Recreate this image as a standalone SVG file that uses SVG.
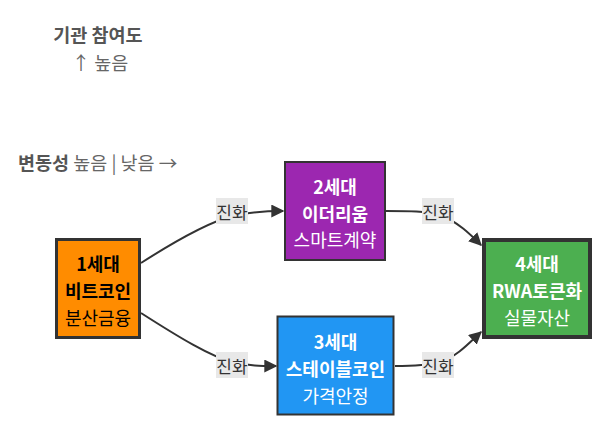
<svg xmlns="http://www.w3.org/2000/svg" width="600" height="426" viewBox="0 0 600 426">
<style>
text{font-family:"Noto Sans CJK KR","Noto Sans",sans-serif;font-size:18px;text-anchor:middle;dominant-baseline:central}
.b{font-weight:bold}
.hd{fill:#555}
.hl{fill:#666}
.h{font-size:18.5px}
.w{fill:#fff}
.k{fill:#000}
.edge{fill:none;stroke:#333;stroke-width:2}
.lbg{fill:#e8e8e8}
.lt{fill:#333;font-size:17px}
</style>
<defs>
<marker id="ah" viewBox="0 0 10 10" refX="9" refY="5" markerWidth="13" markerHeight="13" markerUnits="userSpaceOnUse" orient="auto">
<path d="M0,0 L10,5 L0,10 z" fill="#333"/>
</marker>
</defs>
<g id="legend">
<text x="98" y="34" class="b hd h">기관 참여도</text>
<text x="100" y="62" class="hl h">↑ 높음</text>
<text x="18" y="162" class="hl h" style="text-anchor:start"><tspan class="b hd">변동성</tspan> 높음 | 낮음 →</text>
</g>
<g id="connectors">
<path class="edge" d="M141,263 C180,238 210,222 232,216 C250,212 262,211 283,211" marker-end="url(#ah)"/>
<path class="edge" d="M141,313 C180,338 210,356 232,362 C250,366 260,366 276,366" marker-end="url(#ah)"/>
<path class="edge" d="M386,211 C410,211 425,211 440,215 C458,222 470,234 481,245" marker-end="url(#ah)"/>
<path class="edge" d="M395,366 C410,366 425,366 440,362 C458,356 470,342 481,332" marker-end="url(#ah)"/>
<g id="label1"><rect class="lbg" x="216" y="198" width="32" height="26"/><text class="lt" x="232" y="211">진화</text></g>
<g id="label2"><rect class="lbg" x="216" y="352" width="32" height="26"/><text class="lt" x="232" y="365">진화</text></g>
<g id="label3"><rect class="lbg" x="422" y="198" width="32" height="26"/><text class="lt" x="438" y="211">진화</text></g>
<g id="label4"><rect class="lbg" x="422" y="352" width="32" height="26"/><text class="lt" x="438" y="365">진화</text></g>
</g>
<g id="node1">
<rect x="56.5" y="239.5" width="83" height="98" fill="#FF8C00" stroke="#333" stroke-width="3"/>
<text x="98" y="263" class="b k">1세대</text>
<text x="98" y="290" class="b k">비트코인</text>
<text x="98" y="317" class="k">분산금융</text>
</g>
<g id="node2">
<rect x="285" y="162" width="100" height="98" fill="#9C27B0" stroke="#333" stroke-width="2"/>
<text x="335" y="186" class="b w">2세대</text>
<text x="335" y="213" class="b w">이더리움</text>
<text x="335" y="239" class="w">스마트계약</text>
</g>
<g id="node3">
<rect x="277.5" y="316.5" width="116" height="98" fill="#2196F3" stroke="#333" stroke-width="2"/>
<text x="335.5" y="341" class="b w">3세대</text>
<text x="335.5" y="368" class="b w">스테이블코인</text>
<text x="335.5" y="395" class="w">가격안정</text>
</g>
<g id="node4">
<rect x="484" y="240" width="106" height="97" fill="#4CAF50" stroke="#333" stroke-width="4"/>
<text x="537" y="263" class="b w">4세대</text>
<text x="537" y="290" class="b w">RWA토큰화</text>
<text x="537" y="317" class="w">실물자산</text>
</g>
</svg>
